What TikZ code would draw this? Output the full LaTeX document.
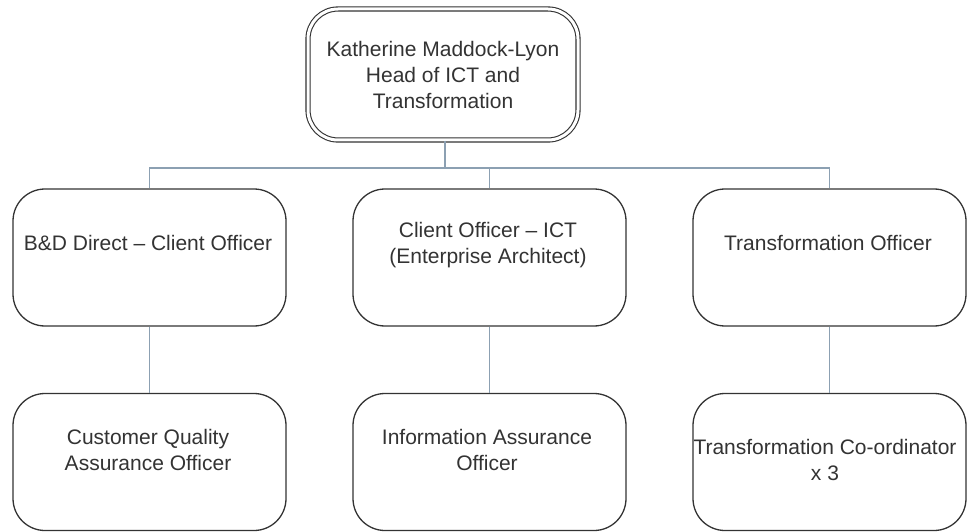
\documentclass[tikz,border=0pt]{standalone}
\usepackage{fontspec}
\setmainfont{Liberation Sans}
\begin{document}
\begin{tikzpicture}[x=1pt,y=-1pt,
  box/.style={draw=black!80, line width=1.3pt, rounded corners=32pt, minimum width=273pt, minimum height=137pt, inner sep=0pt, fill=white},
  topbox/.style={draw=black!80, line width=1.1pt, double=white, double distance=3pt, rounded corners=30pt, minimum width=270pt, minimum height=131pt, inner sep=0pt},
  txt/.style={align=center, inner sep=0pt, text=black!80, font=\fontsize{21}{26}\selectfont},
  conn/.style={draw={rgb,255:red,140;green,160;blue,178}, line width=1.3pt}
]
\useasboundingbox (0,0) rectangle (970,532);
\fill[white] (0,0) rectangle (970,532);

% top
\node[topbox] (head) at (443,74.5) {};
\node[txt] (headt) at (443,75) {Katherine Maddock-Lyon\\Head of ICT and\\Transformation};

% row 1
\node[box] (bd) at (149.5,257.5) {};
\node[box] (co) at (489.5,257.5) {};
\node[box] (to) at (829.5,257.5) {};
\node[txt] (bdt) at (148,243) {B\&D Direct – Client Officer};
\node[txt] (cot) at (488,245) {Client Officer – ICT\\(Enterprise Architect)};
\node[txt] (tot) at (828,243) {Transformation Officer};

% row 2
\node[box] (cq) at (149.5,462) {};
\node[box] (ia) at (489.5,462) {};
\node[box] (tc) at (829.5,462) {};
\node[txt] (cqt) at (148,450) {Customer Quality\\Assurance Officer};
\node[txt] (iat) at (487,450) {Information Assurance\\Officer};
\node[txt] (tct) at (825,460) {Transformation Co-ordinator\\x 3};

% connectors
\coordinate (bus) at (445,168);
\draw[conn] (head.south -| bus) -- (bus);
\draw[conn] (bd.north) |- (bus);
\draw[conn] (to.north) |- (bus);
\draw[conn] (co.north) -- (co.north |- bus);
\draw[conn] (bd.south) -- (cq.north);
\draw[conn] (co.south) -- (ia.north);
\draw[conn] (to.south) -- (tc.north);
\end{tikzpicture}
\end{document}
